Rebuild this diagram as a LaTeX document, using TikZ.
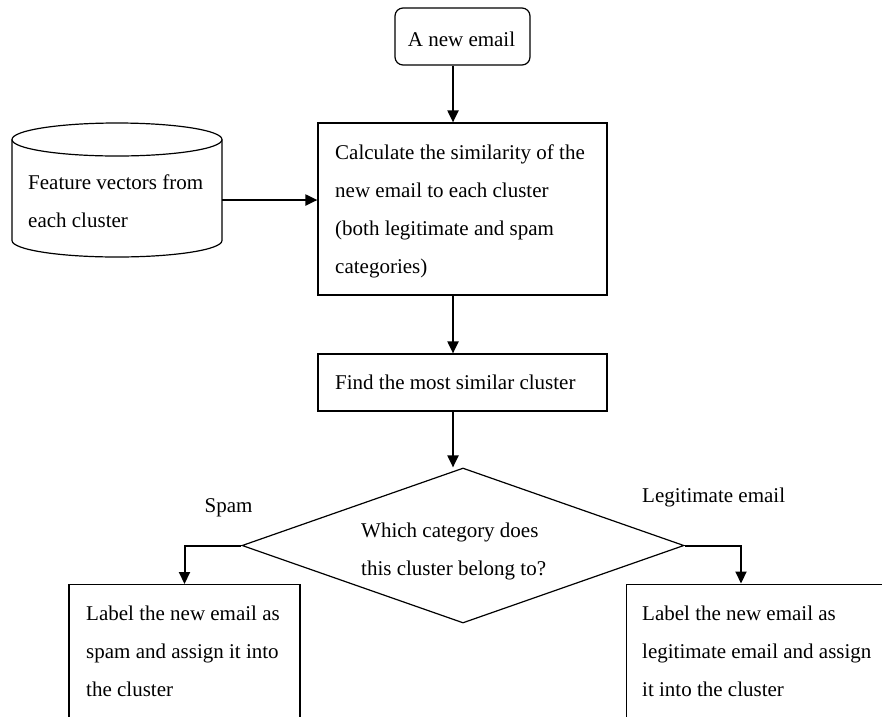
\documentclass[tikz,border=0pt]{standalone}
\usepackage{fontspec}
\setmainfont{Liberation Serif}
\usetikzlibrary{arrows.meta,shapes.geometric}
\begin{document}
\begin{tikzpicture}[x=1pt,y=-1pt,
  boxline/.style={draw=black,line width=1.2pt},
  stepbox/.style={boxline,rectangle,inner sep=0pt},
  txt/.style={font=\fontsize{21}{38}\selectfont,inner sep=0pt,align=left},
  arr/.style={line width=2pt,-{Triangle[length=12pt,width=11pt]}}]
\clip (0,0) rectangle (882,716);
% start box
\node[stepbox,rounded corners=8pt,minimum width=135pt,minimum height=57pt] (start) at (462.5,36.5) {};
\node[txt,anchor=center] (starttxt) at (461.5,39) {A new email};
% calculation box
\node[stepbox,minimum width=289pt,minimum height=172pt] (calc) at (462.5,209) {};
\node[txt,anchor=west] (calctxt) at (335,211) {Calculate the similarity of the\\new email to each cluster\\(both legitimate and spam\\categories)};
% find box
\node[stepbox,minimum width=289pt,minimum height=57pt] (find) at (462.5,382.5) {};
\node[txt,anchor=west] (findtxt) at (335,382) {Find the most similar cluster};
% database cylinder
\draw[boxline] (12,139.5) -- (12,240.5) arc[start angle=180,end angle=360,x radius=105pt,y radius=16.5pt] -- (222,139.5);
\draw[boxline] (117,139.5) ellipse [x radius=105pt,y radius=16.5pt];
\coordinate (cylR) at (222,200);
\node[txt,anchor=west] (cyltxt) at (28,201) {Feature vectors from\\each cluster};
% decision
\node[boxline,diamond,inner sep=0pt,minimum width=442pt,minimum height=155pt] (dia) at (463,545.5) {};
\node[txt,anchor=west] (diatxt) at (361,551) {Which category does\\this cluster belong to?};
% outcome boxes
\node[stepbox,anchor=north,minimum width=231pt,minimum height=200pt] (lbox) at (184.5,584) {};
\node[txt,anchor=west] (ltxt) at (86,651) {Label the new email as\\spam and assign it into\\the cluster};
\node[stepbox,anchor=north west,minimum width=300pt,minimum height=200pt] (rbox) at (626,583.5) {};
\coordinate (rin) at (741,583.5);
\node[txt,anchor=west] (rtxt) at (642,651) {Label the new email as\\legitimate email and assign\\it into the cluster};
% labels
\node[txt,anchor=center] (spamlbl) at (228.5,508) {Spam};
\node[txt,anchor=west] (legitlbl) at (642,497) {Legitimate email};
% connectors
\coordinate (ax) at (453,0);
\draw[arr] (ax |- start.south) -- (ax |- calc.north);
\draw[arr] (cylR) -- (cylR -| calc.west);
\draw[arr] (ax |- calc.south) -- (ax |- find.north);
\draw[arr] (ax |- find.south) -- (ax |- dia.north);
\draw[arr] (dia.west) -| (lbox.north);
\draw[arr] (dia.east) -| (rin);
\end{tikzpicture}
\end{document}
